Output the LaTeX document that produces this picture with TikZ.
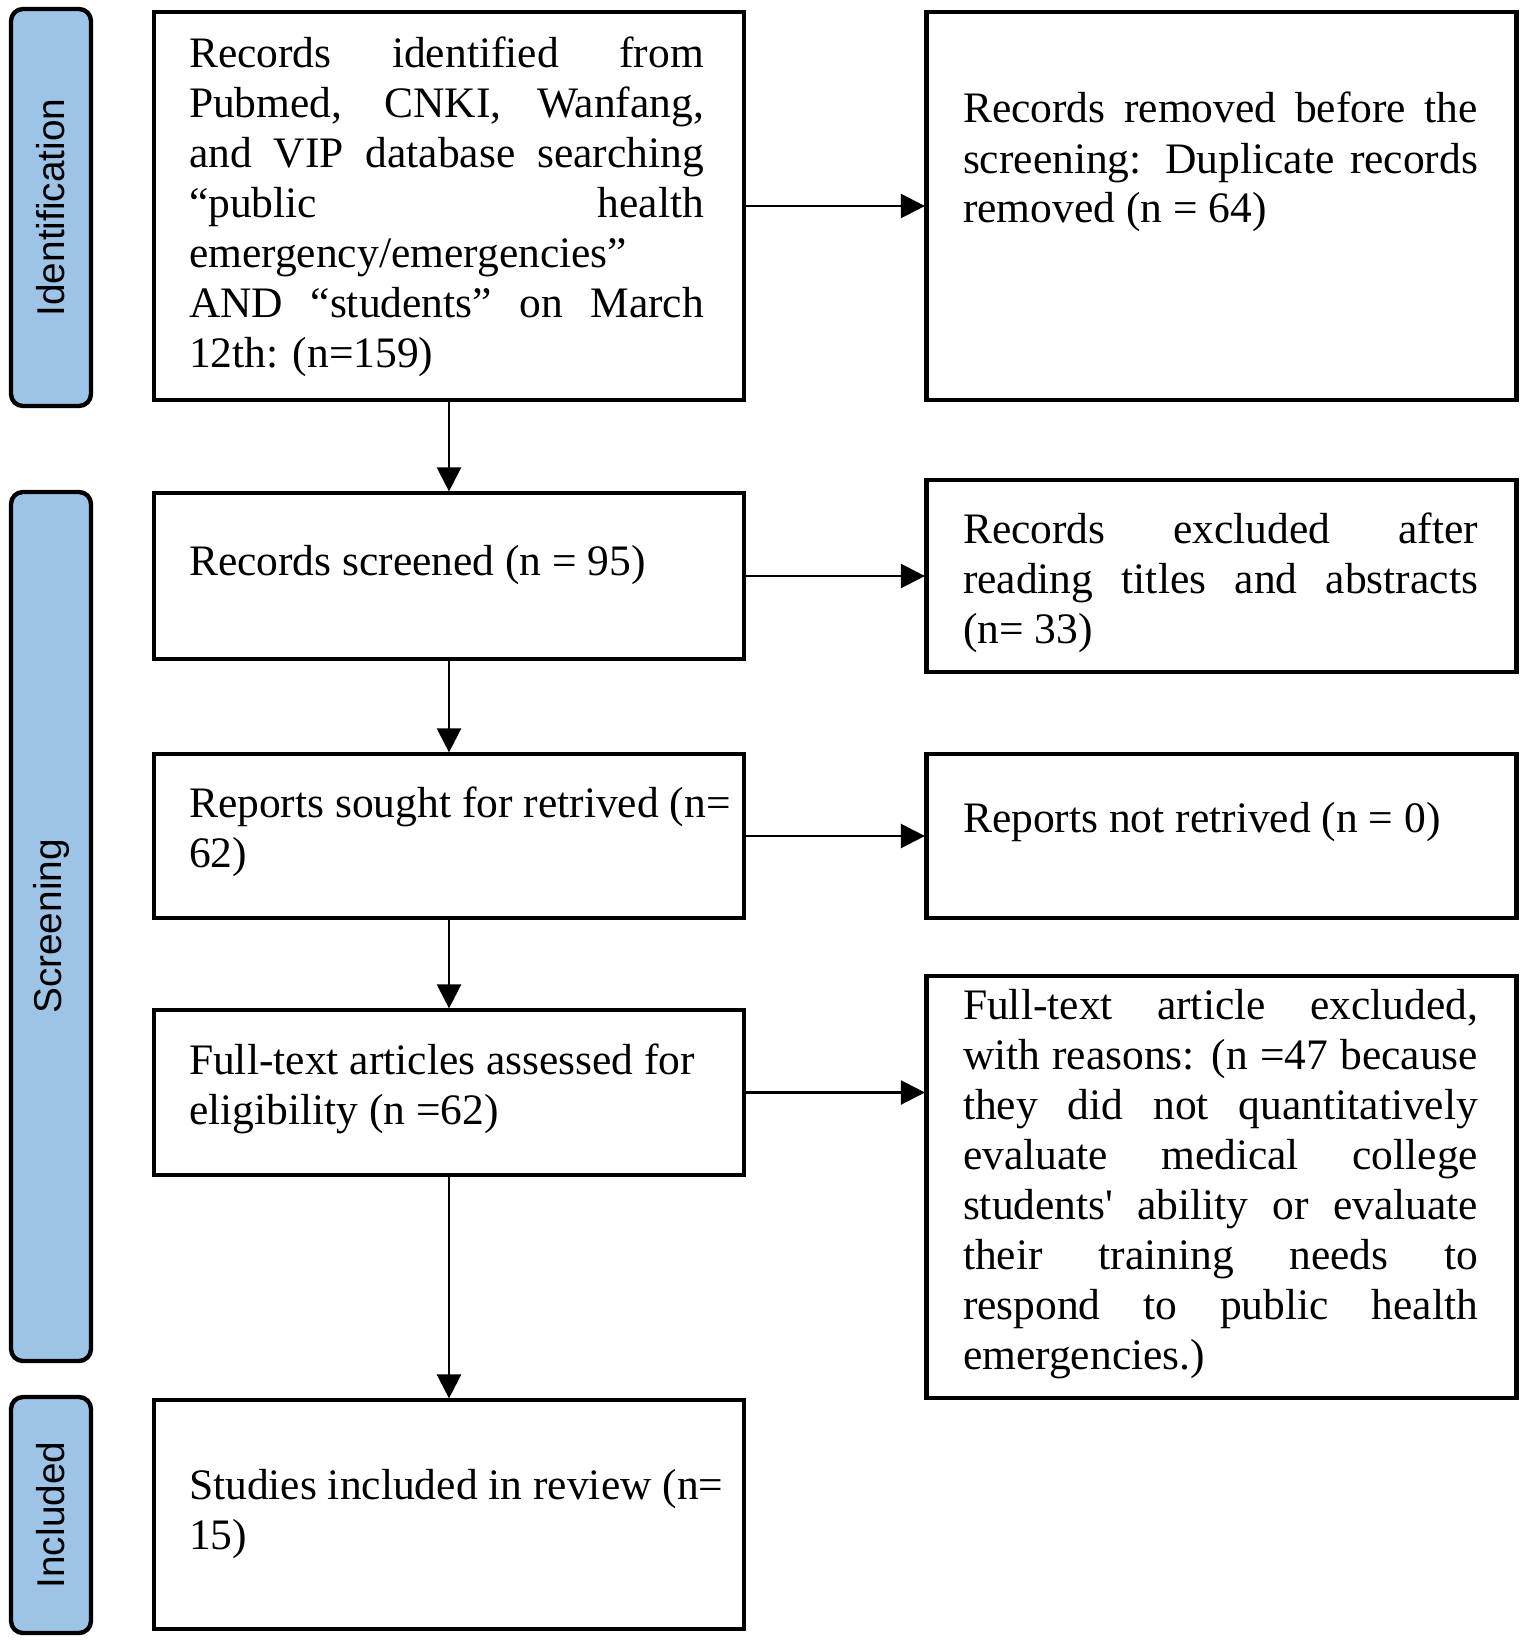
\documentclass[tikz,border=0pt]{standalone}
\usepackage{fontspec}
\setmainfont{Liberation Serif}
\newfontfamily\straightserif[Ligatures=TeXOff]{Liberation Serif}
\newfontfamily\labelsans{Liberation Sans}
\usetikzlibrary{arrows.meta}
\definecolor{phase}{RGB}{157,195,230}
\newcommand\JLine[1]{\hbox to 257.5pt{#1}}
\newcommand\NLine[1]{\hbox{#1}}
\newcommand\apos{{\straightserif'}}
\begin{document}
\begin{tikzpicture}[x=0.5pt,y=-0.5pt,
  box/.style={draw, line width=2.3pt, inner sep=0pt, outer sep=0pt, minimum width=295pt},
  phasebox/.style={draw, line width=2.2pt, fill=phase, rounded corners=6pt, inner sep=0pt, outer sep=0pt, rotate=90, minimum height=40pt, font=\labelsans\fontsize{19.4}{19.4}\selectfont},
  txt/.style={anchor=base west, inner sep=0pt, outer sep=0pt, font=\fontsize{21.75}{25}\selectfont},
  flow/.style={draw, line width=1.2pt, -{Triangle[length=12pt,width=12pt]}, shorten >=0.8pt}]
\useasboundingbox (0,0) rectangle (1527,1643);
% phase labels
\node[phasebox, minimum width=198.5pt] (P1) at (51,207.5) {Identification};
\node[phasebox, minimum width=434.5pt] (P2) at (51,926.5) {Screening};
\node[phasebox, minimum width=118pt] (P3) at (51,1515) {Included};
% boxes
\node[box, minimum height=194pt] (A) at (449,206) {};
\node[box, minimum height=194pt] (B) at (1221.5,206) {};
\node[box, minimum height=83pt] (C) at (449,576) {};
\node[box, minimum height=96pt] (D) at (1221.5,576) {};
\node[box, minimum height=82pt] (E) at (449,836) {};
\node[box, minimum height=82pt] (F) at (1221.5,836) {};
\node[box, minimum height=82.5pt] (G) at (449,1092.5) {};
\node[box, minimum height=211pt] (H) at (1221.5,1187) {};
\node[box, minimum height=114.5pt] (I) at (449,1514.5) {};
% texts
\node[txt] (tA) at (189,68) {\vtop{%
\JLine{Records identified from}
\JLine{Pubmed, CNKI, Wanfang,}
\JLine{and VIP database searching}
\JLine{“public health}
\NLine{emergency/emergencies”}
\JLine{AND “students” on March}
\NLine{12th: (n=159)}}};
\node[txt] (tB) at (963,123) {\vtop{%
\JLine{Records removed before the}
\JLine{screening: Duplicate records}
\NLine{removed (n = 64)}}};
\node[txt] (tC) at (189,575) {\vtop{\NLine{Records screened (n = 95)}}};
\node[txt] (tD) at (963,543) {\vtop{%
\JLine{Records excluded after}
\JLine{reading titles and abstracts}
\NLine{(n= 33)}}};
\node[txt] (tE) at (189,817) {\vtop{%
\NLine{Reports sought for retrived (n=}
\NLine{62)}}};
\node[txt] (tF) at (963,832) {\vtop{\NLine{Reports not retrived (n = 0)}}};
\node[txt] (tG) at (189,1074) {\vtop{%
\NLine{Full-text articles assessed for}
\NLine{eligibility (n =62)}}};
\node[txt] (tH) at (963,1019) {\vtop{%
\JLine{Full-text article excluded,}
\JLine{with reasons: (n =47 because}
\JLine{they did not quantitatively}
\JLine{evaluate medical college}
\JLine{students\apos{} ability or evaluate}
\JLine{their training needs to}
\JLine{respond to public health}
\NLine{emergencies.)}}};
\node[txt] (tI) at (189,1499) {\vtop{%
\NLine{Studies included in review (n=}
\NLine{15)}}};
% connectors
\draw[flow] (A.south) -- (C.north);
\draw[flow] (C.south) -- (E.north);
\draw[flow] (E.south) -- (G.north);
\draw[flow] (G.south) -- (I.north);
\draw[flow] (A.east) -- (A.east -| B.west);
\draw[flow] (C.east) -- (C.east -| D.west);
\draw[flow] (E.east) -- (E.east -| F.west);
\draw[flow] (G.east) -- (G.east -| H.west);
\end{tikzpicture}
\end{document}
